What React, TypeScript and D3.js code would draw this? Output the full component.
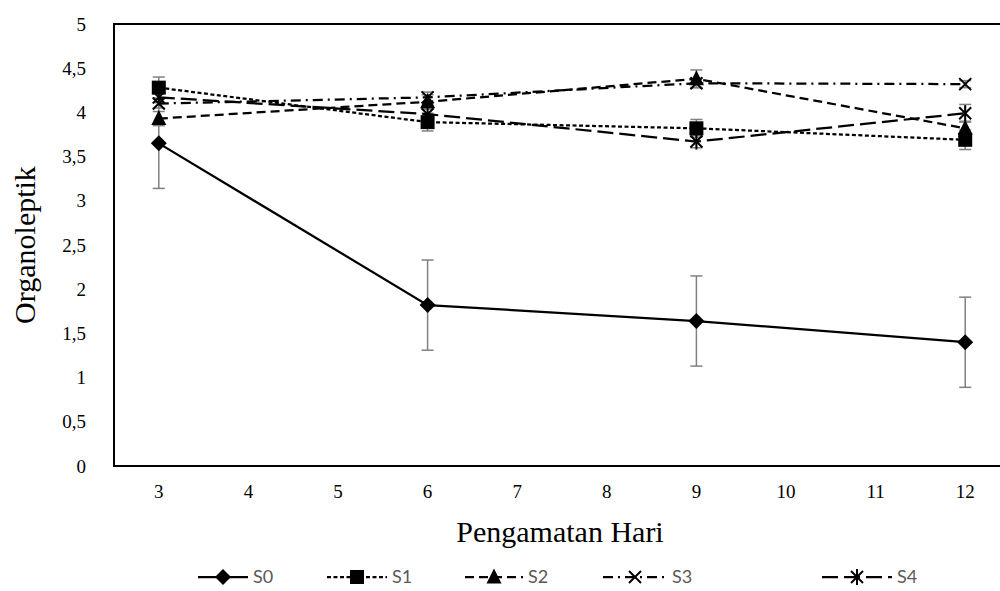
import React from "react";
import * as d3 from "d3";

const days = [3, 6, 9, 12];
const xTicks = [3, 4, 5, 6, 7, 8, 9, 10, 11, 12];
const yTicks = [0, 0.5, 1, 1.5, 2, 2.5, 3, 3.5, 4, 4.5, 5];
const seriesNames = ["S0", "S1", "S2", "S3", "S4"];
const S0 = [3.65, 1.82, 1.64, 1.4];
const S1 = [4.28, 3.89, 3.82, 3.69];
const S2 = [3.93, 4.12, 4.38, 3.82];
const S3 = [4.1, 4.17, 4.33, 4.32];
const S4 = [4.17, 3.98, 3.67, 3.99];
const E0 = [0.51, 0.51, 0.51, 0.51];
const E1 = [0.12, 0.1, 0.1, 0.11];
const E2 = [0.08, 0.08, 0.1, 0.08];
const E3 = [0.05, 0.06, 0.05, 0.04];
const E4 = [0.06, 0.06, 0.07, 0.1];

const values = [S0, S1, S2, S3, S4];
const errors = [E0, E1, E2, E3, E4];
const dashes = ["", "4 2.5", "9 5", "10 5 2 5", "16 6"];
const markers = ["diamond", "square", "triangle", "x", "star"];

const W = 1000, H = 591;
const left = 114, top = 24, bottom = 466, right = 1010;

function Marker({ type, cx, cy }: { type: string; cx: number; cy: number }) {
  const s = 7.5;
  if (type === "diamond")
    return <path d={`M${cx},${cy - s - 0.5}L${cx + s + 0.5},${cy}L${cx},${cy + s + 0.5}L${cx - s - 0.5},${cy}Z`} fill="#000" />;
  if (type === "square")
    return <rect x={cx - s + 0.5} y={cy - s + 0.5} width={2 * s - 1} height={2 * s - 1} fill="#000" />;
  if (type === "triangle")
    return <path d={`M${cx},${cy - s - 1}L${cx + s},${cy + s - 1}L${cx - s},${cy + s - 1}Z`} fill="#000" />;
  if (type === "x")
    return (
      <g stroke="#000" strokeWidth={2}>
        <line x1={cx - 6} y1={cy - 6} x2={cx + 6} y2={cy + 6} />
        <line x1={cx - 6} y1={cy + 6} x2={cx + 6} y2={cy - 6} />
      </g>
    );
  return (
    <g stroke="#000" strokeWidth={2}>
      <line x1={cx - 6} y1={cy - 6} x2={cx + 6} y2={cy + 6} />
      <line x1={cx - 6} y1={cy + 6} x2={cx + 6} y2={cy - 6} />
      <line x1={cx} y1={cy - 8} x2={cx} y2={cy + 8} />
    </g>
  );
}

export default function App() {
  const x = d3.scaleLinear().domain([2.5, 12.5]).range([left, right]);
  const y = d3.scaleLinear().domain([0, 5]).range([bottom, top]);
  const line = d3
    .line<number>()
    .x((_, i) => x(days[i]))
    .y((d) => y(d));

  const legendX = [198, 327, 465, 603, 822];
  const legendLen = [50, 60, 58, 64, 70];
  const legendY = 577;

  return (
    <svg width={W} height={H} style={{ position: "absolute", left: 0, top: 0, background: "#fff" }}>
      <rect x={0} y={0} width={W} height={H} fill="#fff" />
      <rect x={left} y={top} width={right - left} height={bottom - top} fill="none" stroke="#000" strokeWidth={2} />
      {yTicks.map((t) => (
        <text key={t} x={86} y={y(t)} dy="0.35em" textAnchor="end" fontFamily="Liberation Serif" fontSize={19} fill="#000">
          {String(t).replace(".", ",")}
        </text>
      ))}
      {xTicks.map((t) => (
        <text key={t} x={x(t)} y={498} textAnchor="middle" fontFamily="Liberation Serif" fontSize={19} fill="#000">
          {t}
        </text>
      ))}
      <text transform={`translate(35,${(top + bottom) / 2}) rotate(-90)`} textAnchor="middle" fontFamily="Liberation Serif" fontSize={30} fill="#000">
        Organoleptik
      </text>
      <text x={560} y={542} textAnchor="middle" fontFamily="Liberation Serif" fontSize={30} fill="#000">
        Pengamatan Hari
      </text>
      {values.map((vals, si) => (
        <g key={"e" + si} stroke="#808080" strokeWidth={1.5}>
          {vals.map((v, i) => (
            <g key={i}>
              <line x1={x(days[i])} x2={x(days[i])} y1={y(v - errors[si][i])} y2={y(v + errors[si][i])} />
              <line x1={x(days[i]) - 6} x2={x(days[i]) + 6} y1={y(v + errors[si][i])} y2={y(v + errors[si][i])} />
              <line x1={x(days[i]) - 6} x2={x(days[i]) + 6} y1={y(v - errors[si][i])} y2={y(v - errors[si][i])} />
            </g>
          ))}
        </g>
      ))}
      {values.map((vals, si) => (
        <path key={"l" + si} d={line(vals) || ""} fill="none" stroke="#000" strokeWidth={2.25} strokeDasharray={dashes[si]} />
      ))}
      {values.map((vals, si) => (
        <g key={"m" + si}>
          {vals.map((v, i) => (
            <Marker key={i} type={markers[si]} cx={x(days[i])} cy={y(v)} />
          ))}
        </g>
      ))}
      {seriesNames.map((n, si) => (
        <g key={n}>
          <line x1={legendX[si]} x2={legendX[si] + legendLen[si]} y1={legendY} y2={legendY} stroke="#000" strokeWidth={2.25} strokeDasharray={dashes[si]} />
          <Marker type={markers[si]} cx={legendX[si] + legendLen[si] / 2} cy={legendY} />
          <text x={legendX[si] + legendLen[si] + 5} y={legendY} dy="0.36em" fontFamily="Lato" fontSize={18} fill="#595959">
            {n}
          </text>
        </g>
      ))}
    </svg>
  );
}
